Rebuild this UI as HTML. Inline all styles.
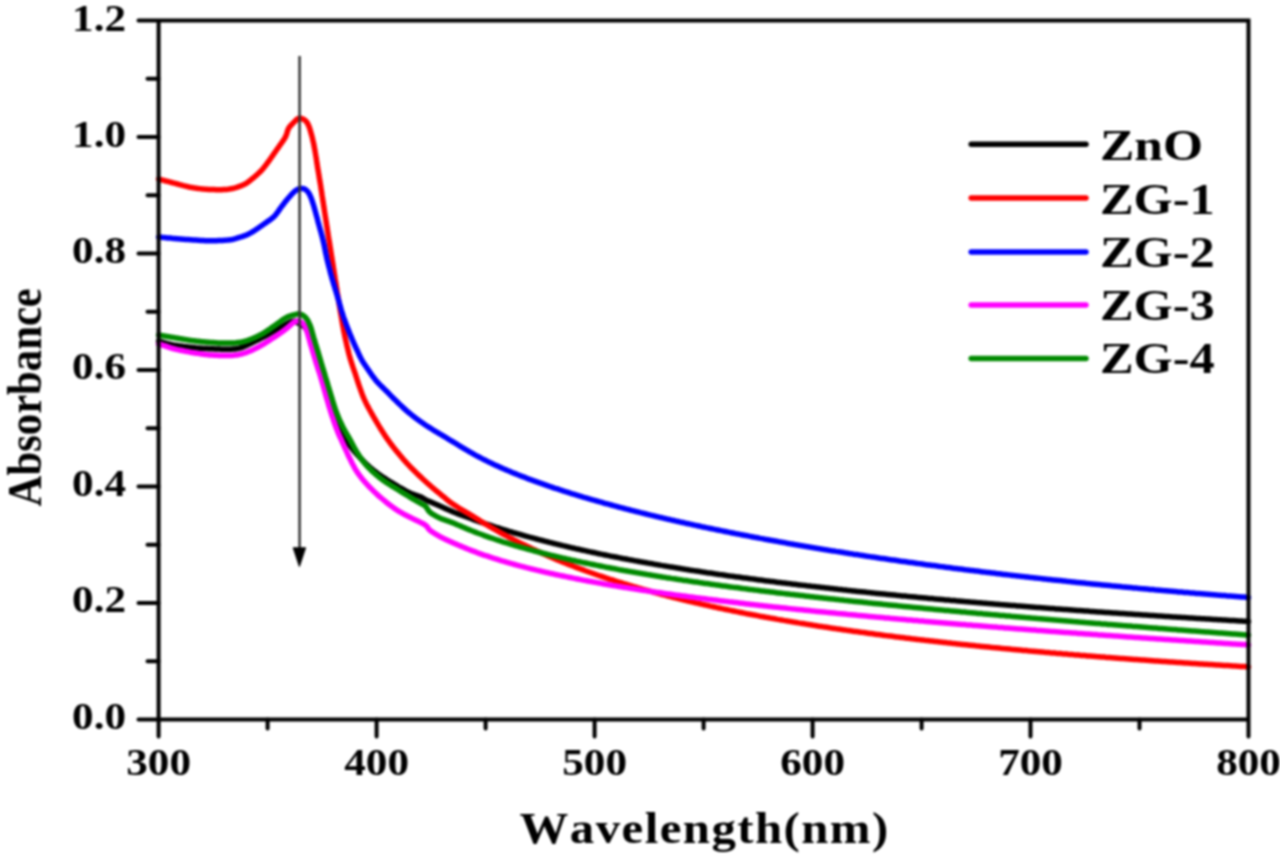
<!DOCTYPE html>
<html><head><meta charset="utf-8">
<style>
html,body{margin:0;padding:0;background:#fff;}
body{width:1280px;height:858px;overflow:hidden;}
svg{display:block;}
#wrap{width:1280px;height:858px;filter:blur(0.8px);}
text{font-family:"Liberation Serif",serif;font-weight:bold;fill:#000;font-kerning:none;}
</style></head><body><div id="wrap">
<svg width="1280" height="858" viewBox="0 0 1280 858">
<rect width="1280" height="858" fill="#fff"/>
<g fill="none" stroke-width="5.5" stroke-linejoin="round" stroke-linecap="round">
<path stroke="#000" d="M158.6 341.2L160.1 341.6 161.5 342.0 162.9 342.4 164.4 342.8 165.8 343.2 167.3 343.6 168.8 343.9 170.2 344.3 171.7 344.6 173.2 344.9 174.6 345.1 176.1 345.4 177.6 345.6 179.1 345.9 180.6 346.1 182.0 346.3 183.5 346.5 185.0 346.7 186.5 346.8 188.0 347.0 189.5 347.2 191.0 347.3 192.5 347.5 194.0 347.6 195.5 347.8 196.9 347.9 198.4 348.0 199.9 348.2 201.4 348.3 202.9 348.4 204.4 348.5 205.9 348.5 207.4 348.6 208.9 348.7 210.4 348.7 211.9 348.8 213.4 348.8 214.9 348.9 216.4 349.0 217.9 349.0 219.4 349.1 220.9 349.2 222.4 349.2 223.9 349.3 225.4 349.3 226.9 349.3 228.4 349.3 229.9 349.3 231.4 349.2 232.9 349.1 234.4 349.0 235.9 348.8 237.4 348.5 238.8 348.2 240.3 347.8 241.7 347.3 243.1 346.8 244.5 346.3 245.9 345.7 247.2 345.0 248.6 344.4 249.9 343.7 251.3 343.1 252.6 342.4 254.0 341.7 255.3 341.1 256.7 340.4 258.0 339.8 259.4 339.1 260.7 338.4 262.0 337.7 263.3 337.0 264.6 336.3 266.0 335.5 267.3 334.8 268.6 334.1 269.9 333.3 271.2 332.6 272.5 331.9 273.8 331.2 275.2 330.5 276.5 329.7 277.8 329.0 279.1 328.3 280.4 327.5 281.7 326.8 283.0 326.0 284.3 325.3 285.6 324.5 286.9 323.8 288.2 323.1 289.6 322.5 291.0 321.9 292.4 321.4 293.9 321.2 295.4 321.3 296.7 321.9 297.9 322.8 299.2 323.6 300.5 324.3 301.8 325.0 303.1 325.9 304.2 326.8 305.3 327.9 306.2 329.1 307.0 330.4 307.8 331.6 308.5 333.0 309.2 334.3 309.9 335.6 310.5 337.0 311.1 338.3 311.7 339.7 312.3 341.1 312.8 342.5 313.3 343.9 313.8 345.3 314.3 346.8 314.8 348.2 315.2 349.6 315.7 351.0 316.1 352.5 316.6 353.9 317.0 355.4 317.4 356.8 317.8 358.2 318.2 359.7 318.6 361.1 319.0 362.6 319.4 364.0 319.8 365.5 320.2 366.9 320.6 368.4 321.0 369.8 321.3 371.3 321.7 372.7 322.1 374.2 322.4 375.6 322.8 377.1 323.1 378.6 323.5 380.0 323.8 381.5 324.2 382.9 324.6 384.4 324.9 385.8 325.3 387.3 325.7 388.7 326.1 390.2 326.4 391.6 326.8 393.1 327.2 394.5 327.6 396.0 328.0 397.4 328.4 398.9 328.9 400.3 329.3 401.8 329.7 403.2 330.1 404.6 330.6 406.1 331.0 407.5 331.5 408.9 332.0 410.3 332.4 411.8 332.9 413.2 333.4 414.6 333.9 416.0 334.4 417.4 335.0 418.8 335.5 420.2 336.1 421.6 336.6 423.0 337.2 424.4 337.9 425.7 338.5 427.1 339.2 428.5 339.8 429.8 340.5 431.1 341.3 432.4 342.0 433.7 342.8 435.0 343.6 436.3 344.4 437.6 345.2 438.8 346.0 440.1 346.8 441.4 347.6 442.6 348.5 443.8 349.4 445.0 350.3 446.2 351.2 447.4 352.1 448.6 353.1 449.8 354.0 450.9 355.0 452.1 356.0 453.2 357.0 454.3 358.0 455.4 359.0 456.5 360.0 457.6 361.1 458.7 362.1 459.8 363.2 460.9 364.2 461.9 365.3 463.0 366.4 464.0 367.4 465.1 368.5 466.1 369.6 467.1 370.8 468.1 371.9 469.0 373.1 470.0 374.3 470.9 375.5 471.8 376.7 472.7 377.9 473.6 379.1 474.5 380.3 475.3 381.6 476.2 382.8 477.0 384.1 477.8 385.3 478.6 386.6 479.5 387.9 480.3 389.1 481.1 390.4 481.9 391.7 482.6 392.9 483.4 394.2 484.2 395.5 485.0 396.8 485.7 398.1 486.5 399.4 487.3 400.7 488.0 402.0 488.7 403.3 489.5 404.6 490.2 405.9 490.9 407.3 491.6 408.6 492.3 410.0 493.0 411.3 493.6 412.7 494.1 414.1 494.6 415.6 495.1 417.0 495.5 418.4 496.0 419.8 496.5 421.2 497.1 422.5 497.9 423.8 498.7 425.1 499.4 426.4 500.1 427.7 500.8 429.1 501.3 430.5 501.9 431.9 502.5 433.3 503.1 434.7 503.7 436.0 504.3 437.4 504.9 438.8 505.5 440.1 506.1 441.5 506.7 442.9 507.3 444.2 508.0 445.6 508.6 447.0 509.2 448.3 509.8 449.7 510.4 451.1 511.0 452.5 511.6 453.9 512.2 455.2 512.7 456.6 513.3 458.0 513.8 459.4 514.4 460.8 514.9 462.2 515.4 463.7 515.9 465.1 516.5 466.5 517.0 467.9 517.5 469.3 518.0 470.7 518.5 472.1 519.0 473.5 519.6 474.9 520.1 476.3 520.6 477.8 521.1 479.2 521.6 480.6 522.1 482.0 522.5 483.4 523.0 484.8 523.5 486.3 524.0 487.7 524.5 489.1 524.9 490.5 525.4 492.0 525.9 493.4 526.4 494.8 526.8 496.2 527.3 497.7 527.7 499.1 528.2 500.5 528.6 502.0 529.1 503.4 529.5 504.8 530.0 506.3 530.4 507.7 530.8 509.1 531.3 510.6 531.7 512.0 532.1 513.4 532.6 514.9 533.0 516.3 533.4 517.8 533.8 519.2 534.2 520.7 534.6 522.1 535.0 523.5 535.5 525.0 535.9 526.4 536.3 527.9 536.7 529.3 537.1 530.8 537.4 532.2 537.8 533.7 538.2 535.1 538.6 536.6 539.0 538.0 539.4 539.5 539.8 540.9 540.1 542.4 540.5 543.8 540.9 545.3 541.3 546.7 541.6 548.2 542.0 549.6 542.4 551.1 542.7 552.5 543.1 554.0 543.5 555.5 543.8 556.9 544.2 558.4 544.5 559.8 544.9 561.3 545.2 562.7 545.6 564.2 545.9 565.7 546.3 567.1 546.6 568.6 547.0 570.0 547.3 571.5 547.7 573.0 548.0 574.4 548.3 575.9 548.7 577.4 549.0 578.8 549.3 580.3 549.6 581.7 550.0 583.2 550.3 584.7 550.6 586.1 550.9 587.6 551.3 589.1 551.6 590.5 551.9 592.0 552.2 593.5 552.5 594.9 552.8 596.4 553.1 597.9 553.5 599.3 553.8 600.8 554.1 602.3 554.4 603.8 554.7 605.2 555.0 606.7 555.3 608.2 555.6 609.6 555.9 611.1 556.2 612.6 556.4 614.0 556.7 615.5 557.0 617.0 557.3 618.5 557.6 619.9 557.9 621.4 558.2 622.9 558.5 624.4 558.7 625.8 559.0 627.3 559.3 628.8 559.6 630.2 559.9 631.7 560.1 633.2 560.4 634.7 560.7 636.1 560.9 637.6 561.2 639.1 561.5 640.6 561.8 642.1 562.0 643.5 562.3 645.0 562.5 646.5 562.8 648.0 563.1 649.4 563.3 650.9 563.6 652.4 563.8 653.9 564.1 655.3 564.4 656.8 564.6 658.3 564.9 659.8 565.1 661.3 565.4 662.7 565.6 664.2 565.9 665.7 566.1 667.2 566.4 668.7 566.6 670.1 566.9 671.6 567.1 673.1 567.3 674.6 567.6 676.1 567.8 677.5 568.1 679.0 568.3 680.5 568.5 682.0 568.8 683.5 569.0 684.9 569.3 686.4 569.5 687.9 569.7 689.4 570.0 690.9 570.2 692.4 570.4 693.8 570.6 695.3 570.9 696.8 571.1 698.3 571.3 699.8 571.5 701.3 571.8 702.7 572.0 704.2 572.2 705.7 572.4 707.2 572.7 708.7 572.9 710.2 573.1 711.6 573.3 713.1 573.5 714.6 573.8 716.1 574.0 717.6 574.2 719.1 574.4 720.5 574.6 722.0 574.8 723.5 575.0 725.0 575.2 726.5 575.5 728.0 575.7 729.5 575.9 730.9 576.1 732.4 576.3 733.9 576.5 735.4 576.7 736.9 576.9 738.4 577.1 739.9 577.3 741.3 577.5 742.8 577.7 744.3 577.9 745.8 578.1 747.3 578.3 748.8 578.5 750.3 578.7 751.7 578.9 753.2 579.1 754.7 579.3 756.2 579.5 757.7 579.7 759.2 579.9 760.7 580.1 762.2 580.3 763.6 580.5 765.1 580.7 766.6 580.9 768.1 581.0 769.6 581.2 771.1 581.4 772.6 581.6 774.1 581.8 775.6 582.0 777.0 582.2 778.5 582.4 780.0 582.5 781.5 582.7 783.0 582.9 784.5 583.1 786.0 583.3 787.5 583.5 789.0 583.6 790.4 583.8 791.9 584.0 793.4 584.2 794.9 584.3 796.4 584.5 797.9 584.7 799.4 584.9 800.9 585.1 802.4 585.2 803.8 585.4 805.3 585.6 806.8 585.8 808.3 585.9 809.8 586.1 811.3 586.3 812.8 586.4 814.3 586.6 815.8 586.8 817.3 587.0 818.7 587.1 820.2 587.3 821.7 587.5 823.2 587.6 824.7 587.8 826.2 588.0 827.7 588.1 829.2 588.3 830.7 588.5 832.2 588.6 833.7 588.8 835.1 589.0 836.6 589.1 838.1 589.3 839.6 589.4 841.1 589.6 842.6 589.8 844.1 589.9 845.6 590.1 847.1 590.3 848.6 590.4 850.1 590.6 851.5 590.7 853.0 590.9 854.5 591.0 856.0 591.2 857.5 591.4 859.0 591.5 860.5 591.7 862.0 591.8 863.5 592.0 865.0 592.1 866.5 592.3 868.0 592.4 869.5 592.6 870.9 592.7 872.4 592.9 873.9 593.1 875.4 593.2 876.9 593.4 878.4 593.5 879.9 593.7 881.4 593.8 882.9 594.0 884.4 594.1 885.9 594.2 887.4 594.4 888.9 594.5 890.3 594.7 891.8 594.8 893.3 595.0 894.8 595.1 896.3 595.3 897.8 595.4 899.3 595.6 900.8 595.7 902.3 595.9 903.8 596.0 905.3 596.1 906.8 596.3 908.3 596.4 909.8 596.6 911.2 596.7 912.7 596.8 914.2 597.0 915.7 597.1 917.2 597.3 918.7 597.4 920.2 597.5 921.7 597.7 923.2 597.8 924.7 598.0 926.2 598.1 927.7 598.2 929.2 598.4 930.7 598.5 932.2 598.6 933.7 598.8 935.1 598.9 936.6 599.1 938.1 599.2 939.6 599.3 941.1 599.5 942.6 599.6 944.1 599.7 945.6 599.9 947.1 600.0 948.6 600.1 950.1 600.3 951.6 600.4 953.1 600.5 954.6 600.6 956.1 600.8 957.6 600.9 959.1 601.0 960.5 601.2 962.0 601.3 963.5 601.4 965.0 601.6 966.5 601.7 968.0 601.8 969.5 601.9 971.0 602.1 972.5 602.2 974.0 602.3 975.5 602.4 977.0 602.6 978.5 602.7 980.0 602.8 981.5 602.9 983.0 603.1 984.5 603.2 986.0 603.3 987.5 603.4 988.9 603.6 990.4 603.7 991.9 603.8 993.4 603.9 994.9 604.1 996.4 604.2 997.9 604.3 999.4 604.4 1000.9 604.6 1002.4 604.7 1003.9 604.8 1005.4 604.9 1006.9 605.0 1008.4 605.2 1009.9 605.3 1011.4 605.4 1012.9 605.5 1014.4 605.6 1015.9 605.7 1017.4 605.9 1018.8 606.0 1020.3 606.1 1021.8 606.2 1023.3 606.3 1024.8 606.5 1026.3 606.6 1027.8 606.7 1029.3 606.8 1030.8 606.9 1032.3 607.0 1033.8 607.2 1035.3 607.3 1036.8 607.4 1038.3 607.5 1039.8 607.6 1041.3 607.7 1042.8 607.8 1044.3 608.0 1045.8 608.1 1047.3 608.2 1048.8 608.3 1050.3 608.4 1051.8 608.5 1053.2 608.6 1054.7 608.7 1056.2 608.9 1057.7 609.0 1059.2 609.1 1060.7 609.2 1062.2 609.3 1063.7 609.4 1065.2 609.5 1066.7 609.6 1068.2 609.7 1069.7 609.8 1071.2 610.0 1072.7 610.1 1074.2 610.2 1075.7 610.3 1077.2 610.4 1078.7 610.5 1080.2 610.6 1081.7 610.7 1083.2 610.8 1084.7 610.9 1086.2 611.0 1087.7 611.1 1089.2 611.2 1090.6 611.4 1092.1 611.5 1093.6 611.6 1095.1 611.7 1096.6 611.8 1098.1 611.9 1099.6 612.0 1101.1 612.1 1102.6 612.2 1104.1 612.3 1105.6 612.4 1107.1 612.5 1108.6 612.6 1110.1 612.7 1111.6 612.8 1113.1 612.9 1114.6 613.0 1116.1 613.1 1117.6 613.2 1119.1 613.3 1120.6 613.4 1122.1 613.5 1123.6 613.6 1125.1 613.7 1126.6 613.8 1128.1 613.9 1129.6 614.0 1131.1 614.1 1132.5 614.2 1134.0 614.3 1135.5 614.4 1137.0 614.5 1138.5 614.6 1140.0 614.7 1141.5 614.8 1143.0 614.9 1144.5 615.0 1146.0 615.1 1147.5 615.2 1149.0 615.3 1150.5 615.4 1152.0 615.5 1153.5 615.6 1155.0 615.7 1156.5 615.8 1158.0 615.9 1159.5 616.0 1161.0 616.1 1162.5 616.2 1164.0 616.3 1165.5 616.4 1167.0 616.5 1168.5 616.6 1170.0 616.7 1171.5 616.8 1173.0 616.9 1174.5 617.0 1176.0 617.1 1177.5 617.2 1179.0 617.3 1180.4 617.3 1181.9 617.4 1183.4 617.5 1184.9 617.6 1186.4 617.7 1187.9 617.8 1189.4 617.9 1190.9 618.0 1192.4 618.1 1193.9 618.2 1195.4 618.3 1196.9 618.4 1198.4 618.5 1199.9 618.6 1201.4 618.7 1202.9 618.7 1204.4 618.8 1205.9 618.9 1207.4 619.0 1208.9 619.1 1210.4 619.2 1211.9 619.3 1213.4 619.4 1214.9 619.5 1216.4 619.6 1217.9 619.7 1219.4 619.7 1220.9 619.8 1222.4 619.9 1223.9 620.0 1225.4 620.1 1226.9 620.2 1228.4 620.3 1229.9 620.4 1231.4 620.5 1232.9 620.5 1234.3 620.6 1235.8 620.7 1237.3 620.8 1238.8 620.9 1240.3 621.0 1241.8 621.1 1243.3 621.2 1244.8 621.3 1246.3 621.3 1247.8 621.4 1248.5 621.5"/>
<path stroke="#f00" d="M158.6 179.0L160.0 179.4 161.5 179.8 162.9 180.2 164.4 180.6 165.8 181.0 167.3 181.3 168.7 181.7 170.2 182.1 171.6 182.5 173.1 182.9 174.5 183.2 176.0 183.6 177.4 184.0 178.9 184.4 180.3 184.8 181.8 185.2 183.2 185.6 184.7 185.9 186.2 186.3 187.6 186.6 189.1 187.0 190.5 187.3 192.0 187.5 193.5 187.8 195.0 188.0 196.5 188.2 198.0 188.4 199.4 188.6 200.9 188.8 202.4 188.9 203.9 189.1 205.4 189.2 206.9 189.3 208.4 189.4 209.9 189.5 211.4 189.5 212.9 189.6 214.4 189.6 215.9 189.7 217.4 189.7 218.9 189.7 220.4 189.7 221.9 189.7 223.4 189.6 224.9 189.5 226.4 189.4 227.9 189.3 229.4 189.1 230.9 188.8 232.3 188.5 233.8 188.2 235.2 187.8 236.7 187.4 238.1 186.9 239.5 186.4 240.9 185.9 242.3 185.3 243.7 184.7 245.0 184.0 246.3 183.3 247.6 182.4 248.8 181.5 249.9 180.6 251.1 179.7 252.3 178.7 253.4 177.8 254.6 176.8 255.7 175.8 256.9 174.8 258.0 173.8 259.1 172.8 260.1 171.8 261.2 170.7 262.2 169.6 263.2 168.4 264.1 167.3 265.0 166.1 266.0 164.9 266.9 163.7 267.7 162.5 268.6 161.3 269.5 160.1 270.4 158.9 271.2 157.6 272.1 156.4 272.9 155.2 273.8 153.9 274.7 152.7 275.5 151.5 276.4 150.2 277.2 149.0 278.1 147.8 279.0 146.6 279.8 145.3 280.7 144.1 281.6 142.9 282.4 141.7 283.3 140.4 284.1 139.2 284.9 137.9 285.6 136.6 286.2 135.2 286.7 133.8 287.1 132.4 287.5 130.9 288.1 129.5 288.7 128.2 289.5 126.9 290.5 125.8 291.5 124.7 292.6 123.6 293.6 122.5 294.7 121.5 295.8 120.4 296.9 119.4 298.1 118.6 299.5 118.1 301.0 118.3 302.4 118.8 303.8 119.5 305.0 120.3 306.1 121.3 307.0 122.5 307.8 123.8 308.4 125.1 309.0 126.5 309.5 127.9 310.0 129.4 310.4 130.8 310.8 132.2 311.2 133.7 311.6 135.1 312.0 136.6 312.4 138.0 312.7 139.5 313.0 141.0 313.4 142.4 313.7 143.9 314.0 145.4 314.2 146.8 314.5 148.3 314.8 149.8 315.1 151.3 315.3 152.7 315.6 154.2 315.8 155.7 316.1 157.2 316.3 158.7 316.5 160.2 316.7 161.6 316.9 163.1 317.2 164.6 317.4 166.1 317.6 167.6 317.9 169.0 318.1 170.5 318.4 172.0 318.6 173.5 318.9 175.0 319.1 176.4 319.3 177.9 319.6 179.4 319.8 180.9 320.1 182.4 320.3 183.8 320.6 185.3 320.8 186.8 321.0 188.3 321.2 189.8 321.5 191.3 321.7 192.7 321.9 194.2 322.1 195.7 322.4 197.2 322.6 198.7 322.8 200.2 323.0 201.6 323.3 203.1 323.5 204.6 323.7 206.1 324.0 207.6 324.2 209.1 324.4 210.5 324.6 212.0 324.9 213.5 325.1 215.0 325.3 216.5 325.6 217.9 325.8 219.4 326.0 220.9 326.2 222.4 326.5 223.9 326.7 225.4 326.9 226.8 327.2 228.3 327.4 229.8 327.6 231.3 327.9 232.8 328.1 234.2 328.3 235.7 328.6 237.2 328.8 238.7 329.1 240.2 329.3 241.7 329.5 243.1 329.8 244.6 330.0 246.1 330.2 247.6 330.5 249.1 330.7 250.5 330.9 252.0 331.2 253.5 331.4 255.0 331.6 256.5 331.9 258.0 332.1 259.4 332.3 260.9 332.6 262.4 332.8 263.9 333.0 265.4 333.3 266.8 333.5 268.3 333.7 269.8 334.0 271.3 334.2 272.8 334.4 274.3 334.7 275.7 334.9 277.2 335.1 278.7 335.4 280.2 335.6 281.7 335.8 283.1 336.1 284.6 336.3 286.1 336.5 287.6 336.8 289.1 337.0 290.6 337.2 292.0 337.5 293.5 337.7 295.0 337.9 296.5 338.2 298.0 338.4 299.4 338.6 300.9 338.9 302.4 339.1 303.9 339.4 305.4 339.6 306.8 339.9 308.3 340.1 309.8 340.4 311.3 340.6 312.8 340.9 314.2 341.1 315.7 341.4 317.2 341.6 318.7 341.9 320.2 342.1 321.6 342.4 323.1 342.6 324.6 342.9 326.1 343.2 327.5 343.4 329.0 343.7 330.5 344.0 332.0 344.3 333.4 344.6 334.9 344.9 336.4 345.2 337.8 345.5 339.3 345.8 340.8 346.2 342.2 346.5 343.7 346.8 345.2 347.2 346.6 347.5 348.1 347.9 349.5 348.2 351.0 348.6 352.5 348.9 353.9 349.3 355.4 349.7 356.8 350.1 358.3 350.5 359.7 351.0 361.1 351.4 362.6 351.9 364.0 352.4 365.4 352.8 366.8 353.3 368.2 353.8 369.7 354.3 371.1 354.8 372.5 355.3 373.9 355.7 375.4 356.2 376.8 356.7 378.2 357.1 379.6 357.6 381.1 358.0 382.5 358.5 383.9 359.0 385.3 359.5 386.8 360.0 388.2 360.5 389.6 361.0 391.0 361.5 392.4 362.0 393.8 362.5 395.2 363.1 396.6 363.7 398.0 364.3 399.4 364.9 400.7 365.6 402.1 366.2 403.4 366.9 404.8 367.6 406.1 368.3 407.4 369.0 408.7 369.7 410.0 370.5 411.4 371.2 412.7 371.9 414.0 372.7 415.3 373.4 416.6 374.2 417.9 374.9 419.2 375.7 420.5 376.4 421.8 377.2 423.1 378.0 424.4 378.7 425.6 379.5 426.9 380.3 428.2 381.1 429.5 381.9 430.8 382.7 432.0 383.5 433.3 384.3 434.5 385.1 435.8 386.0 437.0 386.8 438.3 387.7 439.5 388.5 440.7 389.4 441.9 390.3 443.2 391.2 444.3 392.1 445.5 393.0 446.7 394.0 447.9 394.9 449.1 395.8 450.3 396.8 451.4 397.7 452.6 398.7 453.7 399.6 454.9 400.6 456.0 401.6 457.2 402.6 458.3 403.5 459.5 404.5 460.6 405.5 461.7 406.5 462.8 407.5 463.9 408.6 465.0 409.6 466.1 410.6 467.2 411.7 468.3 412.7 469.3 413.8 470.4 414.9 471.4 415.9 472.5 417.0 473.5 418.1 474.6 419.2 475.6 420.3 476.6 421.4 477.6 422.5 478.7 423.6 479.7 424.7 480.7 425.8 481.7 426.9 482.7 428.0 483.7 429.1 484.7 430.3 485.7 431.4 486.7 432.5 487.7 433.7 488.7 434.8 489.6 436.0 490.6 437.1 491.5 438.3 492.5 439.5 493.4 440.6 494.3 441.8 495.3 443.0 496.3 444.1 497.2 445.3 498.2 446.4 499.2 447.6 500.1 448.7 501.1 449.9 502.0 451.1 502.9 452.3 503.7 453.6 504.6 454.8 505.4 456.1 506.2 457.4 507.0 458.6 507.8 459.9 508.6 461.2 509.3 462.5 510.1 463.8 510.8 465.1 511.6 466.4 512.4 467.7 513.1 469.0 513.9 470.3 514.7 471.5 515.5 472.8 516.2 474.1 517.0 475.4 517.8 476.6 518.6 477.9 519.4 479.2 520.2 480.4 521.0 481.7 521.8 483.0 522.6 484.3 523.3 485.6 524.1 486.9 524.9 488.2 525.6 489.4 526.4 490.7 527.2 492.0 527.9 493.3 528.7 494.6 529.4 496.0 530.1 497.3 530.9 498.6 531.6 499.9 532.3 501.2 533.1 502.5 533.8 503.8 534.5 505.1 535.2 506.5 535.9 507.8 536.6 509.1 537.3 510.4 538.0 511.8 538.7 513.1 539.4 514.4 540.1 515.8 540.8 517.1 541.5 518.5 542.1 519.8 542.8 521.1 543.5 522.5 544.1 523.8 544.8 525.2 545.4 526.5 546.1 527.9 546.7 529.2 547.4 530.6 548.0 532.0 548.7 533.3 549.3 534.7 549.9 536.0 550.5 537.4 551.2 538.8 551.8 540.1 552.4 541.5 553.0 542.9 553.6 544.3 554.2 545.6 554.8 547.0 555.4 548.4 556.0 549.8 556.6 551.1 557.2 552.5 557.8 553.9 558.4 555.3 559.0 556.7 559.6 558.0 560.1 559.4 560.7 560.8 561.3 562.2 561.8 563.6 562.4 565.0 563.0 566.4 563.5 567.8 564.1 569.2 564.6 570.6 565.2 572.0 565.7 573.4 566.2 574.8 566.8 576.2 567.3 577.6 567.9 579.0 568.4 580.4 568.9 581.8 569.4 583.2 569.9 584.6 570.5 586.0 571.0 587.4 571.5 588.8 572.0 590.3 572.5 591.7 573.0 593.1 573.5 594.5 574.0 595.9 574.5 597.3 575.0 598.7 575.5 600.2 576.0 601.6 576.4 603.0 576.9 604.4 577.4 605.9 577.9 607.3 578.3 608.7 578.8 610.1 579.3 611.6 579.7 613.0 580.2 614.4 580.7 615.8 581.1 617.3 581.6 618.7 582.0 620.1 582.5 621.6 582.9 623.0 583.4 624.4 583.8 625.9 584.2 627.3 584.7 628.7 585.1 630.2 585.5 631.6 586.0 633.0 586.4 634.5 586.8 635.9 587.2 637.4 587.7 638.8 588.1 640.2 588.5 641.7 588.9 643.1 589.3 644.6 589.7 646.0 590.1 647.5 590.5 648.9 590.9 650.4 591.3 651.8 591.7 653.2 592.1 654.7 592.5 656.1 592.9 657.6 593.3 659.0 593.7 660.5 594.1 661.9 594.5 663.4 594.8 664.8 595.2 666.3 595.6 667.7 596.0 669.2 596.4 670.7 596.7 672.1 597.1 673.6 597.5 675.0 597.8 676.5 598.2 677.9 598.6 679.4 598.9 680.8 599.3 682.3 599.6 683.8 600.0 685.2 600.3 686.7 600.7 688.1 601.0 689.6 601.4 691.0 601.7 692.5 602.1 694.0 602.4 695.4 602.8 696.9 603.1 698.4 603.4 699.8 603.8 701.3 604.1 702.7 604.4 704.2 604.8 705.7 605.1 707.1 605.4 708.6 605.7 710.1 606.1 711.5 606.4 713.0 606.7 714.5 607.0 715.9 607.3 717.4 607.7 718.9 608.0 720.3 608.3 721.8 608.6 723.3 608.9 724.7 609.2 726.2 609.5 727.7 609.8 729.1 610.1 730.6 610.4 732.1 610.7 733.5 611.0 735.0 611.3 736.5 611.6 738.0 611.9 739.4 612.2 740.9 612.5 742.4 612.8 743.8 613.1 745.3 613.4 746.8 613.7 748.3 613.9 749.7 614.2 751.2 614.5 752.7 614.8 754.1 615.1 755.6 615.3 757.1 615.6 758.6 615.9 760.0 616.2 761.5 616.4 763.0 616.7 764.5 617.0 765.9 617.3 767.4 617.5 768.9 617.8 770.4 618.1 771.8 618.3 773.3 618.6 774.8 618.8 776.3 619.1 777.8 619.4 779.2 619.6 780.7 619.9 782.2 620.1 783.7 620.4 785.1 620.6 786.6 620.9 788.1 621.1 789.6 621.4 791.1 621.6 792.5 621.9 794.0 622.1 795.5 622.4 797.0 622.6 798.5 622.9 799.9 623.1 801.4 623.4 802.9 623.6 804.4 623.8 805.9 624.1 807.3 624.3 808.8 624.6 810.3 624.8 811.8 625.0 813.3 625.3 814.8 625.5 816.2 625.7 817.7 626.0 819.2 626.2 820.7 626.4 822.2 626.6 823.6 626.9 825.1 627.1 826.6 627.3 828.1 627.5 829.6 627.8 831.1 628.0 832.5 628.2 834.0 628.4 835.5 628.6 837.0 628.9 838.5 629.1 840.0 629.3 841.5 629.5 842.9 629.7 844.4 629.9 845.9 630.1 847.4 630.4 848.9 630.6 850.4 630.8 851.8 631.0 853.3 631.2 854.8 631.4 856.3 631.6 857.8 631.8 859.3 632.0 860.8 632.2 862.2 632.4 863.7 632.6 865.2 632.8 866.7 633.0 868.2 633.2 869.7 633.4 871.2 633.6 872.7 633.8 874.1 634.0 875.6 634.2 877.1 634.4 878.6 634.6 880.1 634.8 881.6 635.0 883.1 635.2 884.6 635.4 886.0 635.6 887.5 635.8 889.0 635.9 890.5 636.1 892.0 636.3 893.5 636.5 895.0 636.7 896.5 636.9 897.9 637.1 899.4 637.2 900.9 637.4 902.4 637.6 903.9 637.8 905.4 638.0 906.9 638.2 908.4 638.3 909.9 638.5 911.4 638.7 912.8 638.9 914.3 639.0 915.8 639.2 917.3 639.4 918.8 639.6 920.3 639.7 921.8 639.9 923.3 640.1 924.8 640.3 926.2 640.4 927.7 640.6 929.2 640.8 930.7 641.0 932.2 641.1 933.7 641.3 935.2 641.5 936.7 641.6 938.2 641.8 939.7 642.0 941.2 642.1 942.6 642.3 944.1 642.5 945.6 642.6 947.1 642.8 948.6 642.9 950.1 643.1 951.6 643.3 953.1 643.4 954.6 643.6 956.1 643.7 957.6 643.9 959.0 644.1 960.5 644.2 962.0 644.4 963.5 644.5 965.0 644.7 966.5 644.8 968.0 645.0 969.5 645.2 971.0 645.3 972.5 645.5 974.0 645.6 975.5 645.8 977.0 645.9 978.4 646.1 979.9 646.2 981.4 646.4 982.9 646.5 984.4 646.7 985.9 646.8 987.4 647.0 988.9 647.1 990.4 647.3 991.9 647.4 993.4 647.6 994.9 647.7 996.4 647.8 997.9 648.0 999.3 648.1 1000.8 648.3 1002.3 648.4 1003.8 648.6 1005.3 648.7 1006.8 648.8 1008.3 649.0 1009.8 649.1 1011.3 649.3 1012.8 649.4 1014.3 649.5 1015.8 649.7 1017.3 649.8 1018.8 650.0 1020.3 650.1 1021.7 650.2 1023.2 650.4 1024.7 650.5 1026.2 650.6 1027.7 650.8 1029.2 650.9 1030.7 651.1 1032.2 651.2 1033.7 651.3 1035.2 651.5 1036.7 651.6 1038.2 651.7 1039.7 651.8 1041.2 652.0 1042.7 652.1 1044.2 652.2 1045.6 652.4 1047.1 652.5 1048.6 652.6 1050.1 652.8 1051.6 652.9 1053.1 653.0 1054.6 653.1 1056.1 653.3 1057.6 653.4 1059.1 653.5 1060.6 653.6 1062.1 653.8 1063.6 653.9 1065.1 654.0 1066.6 654.1 1068.1 654.3 1069.6 654.4 1071.1 654.5 1072.6 654.6 1074.0 654.8 1075.5 654.9 1077.0 655.0 1078.5 655.1 1080.0 655.3 1081.5 655.4 1083.0 655.5 1084.5 655.6 1086.0 655.7 1087.5 655.9 1089.0 656.0 1090.5 656.1 1092.0 656.2 1093.5 656.3 1095.0 656.4 1096.5 656.6 1098.0 656.7 1099.5 656.8 1101.0 656.9 1102.5 657.0 1104.0 657.1 1105.5 657.3 1106.9 657.4 1108.4 657.5 1109.9 657.6 1111.4 657.7 1112.9 657.8 1114.4 657.9 1115.9 658.0 1117.4 658.2 1118.9 658.3 1120.4 658.4 1121.9 658.5 1123.4 658.6 1124.9 658.7 1126.4 658.8 1127.9 658.9 1129.4 659.0 1130.9 659.2 1132.4 659.3 1133.9 659.4 1135.4 659.5 1136.9 659.6 1138.4 659.7 1139.9 659.8 1141.4 659.9 1142.8 660.0 1144.3 660.1 1145.8 660.2 1147.3 660.3 1148.8 660.4 1150.3 660.5 1151.8 660.7 1153.3 660.8 1154.8 660.9 1156.3 661.0 1157.8 661.1 1159.3 661.2 1160.8 661.3 1162.3 661.4 1163.8 661.5 1165.3 661.6 1166.8 661.7 1168.3 661.8 1169.8 661.9 1171.3 662.0 1172.8 662.1 1174.3 662.2 1175.8 662.3 1177.3 662.4 1178.8 662.5 1180.3 662.6 1181.8 662.7 1183.3 662.8 1184.7 662.9 1186.2 663.0 1187.7 663.1 1189.2 663.2 1190.7 663.3 1192.2 663.4 1193.7 663.5 1195.2 663.6 1196.7 663.7 1198.2 663.8 1199.7 663.9 1201.2 664.0 1202.7 664.1 1204.2 664.2 1205.7 664.2 1207.2 664.3 1208.7 664.4 1210.2 664.5 1211.7 664.6 1213.2 664.7 1214.7 664.8 1216.2 664.9 1217.7 665.0 1219.2 665.1 1220.7 665.2 1222.2 665.3 1223.7 665.4 1225.2 665.5 1226.7 665.6 1228.2 665.6 1229.7 665.7 1231.2 665.8 1232.7 665.9 1234.2 666.0 1235.6 666.1 1237.1 666.2 1238.6 666.3 1240.1 666.4 1241.6 666.5 1243.1 666.6 1244.6 666.6 1246.1 666.7 1247.6 666.8 1248.5 666.9"/>
<path stroke="#00f" d="M158.6 237.0L160.1 237.1 161.6 237.3 163.1 237.4 164.6 237.6 166.1 237.7 167.6 237.9 169.1 238.0 170.5 238.1 172.0 238.3 173.5 238.4 175.0 238.5 176.5 238.7 178.0 238.8 179.5 238.9 181.0 239.0 182.5 239.2 184.0 239.3 185.5 239.4 187.0 239.5 188.5 239.6 190.0 239.7 191.5 239.8 193.0 239.9 194.5 240.0 196.0 240.1 197.5 240.2 199.0 240.3 200.5 240.4 202.0 240.5 203.5 240.6 205.0 240.7 206.5 240.7 207.9 240.8 209.4 240.8 210.9 240.8 212.4 240.8 213.9 240.8 215.4 240.7 216.9 240.7 218.4 240.6 219.9 240.6 221.4 240.5 222.9 240.4 224.4 240.3 225.9 240.2 227.4 240.1 228.9 239.9 230.4 239.7 231.9 239.5 233.4 239.2 234.8 238.8 236.2 238.4 237.7 237.9 239.1 237.5 240.5 237.0 242.0 236.6 243.4 236.1 244.8 235.6 246.2 235.1 247.6 234.5 248.9 233.8 250.3 233.1 251.6 232.4 252.8 231.6 254.1 230.8 255.4 230.0 256.6 229.1 257.9 228.3 259.1 227.5 260.4 226.6 261.6 225.8 262.8 224.9 264.0 224.0 265.3 223.2 266.5 222.3 267.7 221.4 268.9 220.6 270.2 219.7 271.4 218.8 272.6 217.9 273.7 216.9 274.7 215.9 275.7 214.7 276.6 213.5 277.5 212.3 278.4 211.1 279.2 209.9 280.1 208.6 281.0 207.4 281.9 206.2 282.8 205.0 283.7 203.8 284.6 202.6 285.5 201.4 286.5 200.3 287.4 199.1 288.4 198.0 289.4 196.9 290.4 195.8 291.4 194.6 292.4 193.5 293.5 192.5 294.6 191.4 295.8 190.5 297.0 189.7 298.4 189.1 299.8 188.6 301.3 188.4 302.8 188.4 304.2 188.8 305.5 189.5 306.7 190.5 307.7 191.6 308.6 192.8 309.4 194.1 310.0 195.4 310.6 196.8 311.2 198.2 311.7 199.6 312.2 201.0 312.6 202.4 313.1 203.9 313.6 205.3 314.0 206.7 314.4 208.2 314.8 209.6 315.2 211.1 315.6 212.5 316.0 214.0 316.4 215.4 316.8 216.9 317.2 218.3 317.6 219.8 317.9 221.2 318.3 222.7 318.7 224.1 319.1 225.6 319.5 227.0 319.9 228.5 320.3 229.9 320.7 231.3 321.1 232.8 321.5 234.2 321.9 235.7 322.3 237.1 322.6 238.6 323.0 240.0 323.3 241.5 323.7 243.0 324.0 244.4 324.3 245.9 324.6 247.4 324.9 248.8 325.2 250.3 325.4 251.8 325.7 253.3 326.1 254.7 326.4 256.2 326.7 257.7 327.0 259.1 327.4 260.6 327.7 262.0 328.1 263.5 328.5 264.9 328.8 266.4 329.2 267.9 329.6 269.3 330.0 270.8 330.3 272.2 330.7 273.7 331.1 275.1 331.5 276.5 331.9 278.0 332.3 279.4 332.8 280.9 333.2 282.3 333.6 283.8 334.0 285.2 334.5 286.6 334.9 288.1 335.3 289.5 335.8 290.9 336.2 292.4 336.6 293.8 337.1 295.2 337.5 296.7 337.9 298.1 338.4 299.6 338.8 301.0 339.2 302.4 339.6 303.9 340.0 305.3 340.4 306.8 340.8 308.2 341.2 309.7 341.6 311.1 342.1 312.5 342.5 314.0 343.0 315.4 343.4 316.8 343.9 318.2 344.4 319.6 345.0 321.1 345.5 322.5 346.0 323.9 346.5 325.3 347.1 326.7 347.6 328.1 348.2 329.5 348.7 330.9 349.3 332.3 349.8 333.6 350.4 335.0 351.0 336.4 351.5 337.8 352.1 339.2 352.7 340.6 353.3 342.0 353.9 343.3 354.5 344.7 355.1 346.1 355.8 347.4 356.4 348.8 357.0 350.1 357.7 351.5 358.3 352.9 358.9 354.2 359.5 355.6 360.2 356.9 360.9 358.3 361.6 359.6 362.3 360.9 363.1 362.2 363.9 363.4 364.7 364.7 365.6 365.9 366.4 367.2 367.3 368.4 368.1 369.7 369.0 370.9 369.8 372.1 370.7 373.3 371.5 374.6 372.4 375.8 373.3 377.0 374.2 378.2 375.1 379.4 376.0 380.6 377.0 381.7 378.0 382.8 379.1 383.9 380.1 385.0 381.2 386.0 382.3 387.1 383.4 388.1 384.4 389.1 385.5 390.2 386.6 391.3 387.6 392.3 388.7 393.4 389.7 394.5 390.8 395.6 391.8 396.6 392.9 397.7 393.9 398.7 395.0 399.8 396.1 400.8 397.1 401.9 398.2 402.9 399.3 404.0 400.4 405.0 401.5 406.0 402.6 407.1 403.7 408.1 404.8 409.1 405.9 410.1 407.0 411.1 408.2 412.1 409.3 413.0 410.5 414.0 411.6 414.9 412.8 415.9 414.0 416.8 415.2 417.7 416.4 418.6 417.6 419.5 418.8 420.4 420.0 421.2 421.2 422.1 422.5 423.0 423.7 423.8 425.0 424.7 426.2 425.5 427.5 426.3 428.7 427.1 430.0 427.9 431.3 428.7 432.5 429.5 433.8 430.3 435.1 431.1 436.4 431.9 437.7 432.6 438.9 433.4 440.2 434.2 441.5 434.9 442.8 435.7 444.1 436.5 445.4 437.2 446.7 438.0 448.0 438.8 449.2 439.6 450.5 440.3 451.8 441.1 453.1 441.9 454.4 442.7 455.7 443.4 456.9 444.2 458.2 445.0 459.5 445.8 460.8 446.6 462.1 447.4 463.3 448.1 464.6 448.9 465.9 449.7 467.2 450.4 468.5 451.2 469.8 452.0 471.1 452.7 472.4 453.4 473.7 454.2 475.0 454.9 476.3 455.6 477.7 456.3 479.0 457.0 480.3 457.7 481.6 458.4 483.0 459.1 484.3 459.8 485.7 460.4 487.0 461.1 488.4 461.8 489.7 462.4 491.1 463.1 492.4 463.7 493.8 464.4 495.1 465.0 496.5 465.6 497.9 466.2 499.2 466.9 500.6 467.5 502.0 468.1 503.3 468.7 504.7 469.3 506.1 469.9 507.5 470.5 508.9 471.0 510.2 471.6 511.6 472.2 513.0 472.8 514.4 473.3 515.8 473.9 517.2 474.5 518.6 475.0 520.0 475.6 521.4 476.1 522.8 476.7 524.2 477.2 525.6 477.7 527.0 478.3 528.4 478.8 529.8 479.3 531.2 479.8 532.6 480.4 534.0 480.9 535.4 481.4 536.8 481.9 538.2 482.4 539.6 482.9 541.1 483.4 542.5 483.9 543.9 484.4 545.3 484.9 546.7 485.4 548.1 485.9 549.6 486.4 551.0 486.8 552.4 487.3 553.8 487.8 555.2 488.3 556.7 488.7 558.1 489.2 559.5 489.7 560.9 490.1 562.4 490.6 563.8 491.1 565.2 491.5 566.7 492.0 568.1 492.4 569.5 492.9 570.9 493.3 572.4 493.8 573.8 494.2 575.2 494.7 576.7 495.1 578.1 495.5 579.5 496.0 581.0 496.4 582.4 496.8 583.9 497.3 585.3 497.7 586.7 498.1 588.2 498.5 589.6 499.0 591.1 499.4 592.5 499.8 593.9 500.2 595.4 500.6 596.8 501.0 598.3 501.4 599.7 501.8 601.2 502.2 602.6 502.6 604.0 503.1 605.5 503.5 606.9 503.8 608.4 504.2 609.8 504.6 611.3 505.0 612.7 505.4 614.2 505.8 615.6 506.2 617.1 506.6 618.5 507.0 620.0 507.4 621.4 507.7 622.9 508.1 624.3 508.5 625.8 508.9 627.2 509.2 628.7 509.6 630.1 510.0 631.6 510.4 633.0 510.7 634.5 511.1 636.0 511.5 637.4 511.8 638.9 512.2 640.3 512.6 641.8 512.9 643.2 513.3 644.7 513.6 646.1 514.0 647.6 514.4 649.1 514.7 650.5 515.1 652.0 515.4 653.4 515.8 654.9 516.1 656.4 516.5 657.8 516.8 659.3 517.2 660.7 517.5 662.2 517.8 663.7 518.2 665.1 518.5 666.6 518.9 668.0 519.2 669.5 519.5 671.0 519.9 672.4 520.2 673.9 520.5 675.3 520.9 676.8 521.2 678.3 521.5 679.7 521.9 681.2 522.2 682.7 522.5 684.1 522.8 685.6 523.2 687.1 523.5 688.5 523.8 690.0 524.1 691.5 524.4 692.9 524.8 694.4 525.1 695.9 525.4 697.3 525.7 698.8 526.0 700.3 526.3 701.7 526.7 703.2 527.0 704.7 527.3 706.1 527.6 707.6 527.9 709.1 528.2 710.5 528.5 712.0 528.8 713.5 529.1 714.9 529.4 716.4 529.7 717.9 530.0 719.3 530.3 720.8 530.6 722.3 530.9 723.8 531.2 725.2 531.5 726.7 531.8 728.2 532.1 729.6 532.4 731.1 532.7 732.6 533.0 734.0 533.3 735.5 533.6 737.0 533.9 738.5 534.1 739.9 534.4 741.4 534.7 742.9 535.0 744.4 535.3 745.8 535.6 747.3 535.8 748.8 536.1 750.2 536.4 751.7 536.7 753.2 537.0 754.7 537.3 756.1 537.5 757.6 537.8 759.1 538.1 760.6 538.4 762.0 538.6 763.5 538.9 765.0 539.2 766.5 539.4 767.9 539.7 769.4 540.0 770.9 540.3 772.4 540.5 773.8 540.8 775.3 541.1 776.8 541.3 778.3 541.6 779.7 541.9 781.2 542.1 782.7 542.4 784.2 542.6 785.7 542.9 787.1 543.2 788.6 543.4 790.1 543.7 791.6 543.9 793.0 544.2 794.5 544.5 796.0 544.7 797.5 545.0 799.0 545.2 800.4 545.5 801.9 545.7 803.4 546.0 804.9 546.2 806.3 546.5 807.8 546.7 809.3 547.0 810.8 547.2 812.3 547.5 813.7 547.7 815.2 548.0 816.7 548.2 818.2 548.5 819.7 548.7 821.1 549.0 822.6 549.2 824.1 549.5 825.6 549.7 827.1 549.9 828.5 550.2 830.0 550.4 831.5 550.7 833.0 550.9 834.5 551.1 836.0 551.4 837.4 551.6 838.9 551.8 840.4 552.1 841.9 552.3 843.4 552.5 844.8 552.8 846.3 553.0 847.8 553.2 849.3 553.5 850.8 553.7 852.2 553.9 853.7 554.2 855.2 554.4 856.7 554.6 858.2 554.8 859.7 555.1 861.1 555.3 862.6 555.5 864.1 555.7 865.6 556.0 867.1 556.2 868.6 556.4 870.0 556.6 871.5 556.9 873.0 557.1 874.5 557.3 876.0 557.5 877.5 557.7 878.9 558.0 880.4 558.2 881.9 558.4 883.4 558.6 884.9 558.8 886.4 559.0 887.9 559.3 889.3 559.5 890.8 559.7 892.3 559.9 893.8 560.1 895.3 560.3 896.8 560.5 898.2 560.7 899.7 561.0 901.2 561.2 902.7 561.4 904.2 561.6 905.7 561.8 907.2 562.0 908.6 562.2 910.1 562.4 911.6 562.6 913.1 562.8 914.6 563.0 916.1 563.2 917.6 563.4 919.0 563.6 920.5 563.8 922.0 564.0 923.5 564.2 925.0 564.5 926.5 564.7 928.0 564.9 929.5 565.0 930.9 565.2 932.4 565.4 933.9 565.6 935.4 565.8 936.9 566.0 938.4 566.2 939.9 566.4 941.3 566.6 942.8 566.8 944.3 567.0 945.8 567.2 947.3 567.4 948.8 567.6 950.3 567.8 951.8 568.0 953.2 568.2 954.7 568.4 956.2 568.5 957.7 568.7 959.2 568.9 960.7 569.1 962.2 569.3 963.7 569.5 965.2 569.7 966.6 569.9 968.1 570.0 969.6 570.2 971.1 570.4 972.6 570.6 974.1 570.8 975.6 571.0 977.1 571.1 978.6 571.3 980.0 571.5 981.5 571.7 983.0 571.9 984.5 572.1 986.0 572.2 987.5 572.4 989.0 572.6 990.5 572.8 992.0 573.0 993.4 573.1 994.9 573.3 996.4 573.5 997.9 573.7 999.4 573.8 1000.9 574.0 1002.4 574.2 1003.9 574.4 1005.4 574.5 1006.9 574.7 1008.3 574.9 1009.8 575.1 1011.3 575.2 1012.8 575.4 1014.3 575.6 1015.8 575.7 1017.3 575.9 1018.8 576.1 1020.3 576.2 1021.8 576.4 1023.2 576.6 1024.7 576.7 1026.2 576.9 1027.7 577.1 1029.2 577.3 1030.7 577.4 1032.2 577.6 1033.7 577.7 1035.2 577.9 1036.7 578.1 1038.2 578.2 1039.6 578.4 1041.1 578.6 1042.6 578.7 1044.1 578.9 1045.6 579.1 1047.1 579.2 1048.6 579.4 1050.1 579.5 1051.6 579.7 1053.1 579.9 1054.6 580.0 1056.0 580.2 1057.5 580.3 1059.0 580.5 1060.5 580.6 1062.0 580.8 1063.5 581.0 1065.0 581.1 1066.5 581.3 1068.0 581.4 1069.5 581.6 1071.0 581.7 1072.5 581.9 1074.0 582.0 1075.4 582.2 1076.9 582.4 1078.4 582.5 1079.9 582.7 1081.4 582.8 1082.9 583.0 1084.4 583.1 1085.9 583.3 1087.4 583.4 1088.9 583.6 1090.4 583.7 1091.9 583.9 1093.4 584.0 1094.8 584.2 1096.3 584.3 1097.8 584.5 1099.3 584.6 1100.8 584.7 1102.3 584.9 1103.8 585.0 1105.3 585.2 1106.8 585.3 1108.3 585.5 1109.8 585.6 1111.3 585.8 1112.8 585.9 1114.3 586.0 1115.7 586.2 1117.2 586.3 1118.7 586.5 1120.2 586.6 1121.7 586.8 1123.2 586.9 1124.7 587.0 1126.2 587.2 1127.7 587.3 1129.2 587.5 1130.7 587.6 1132.2 587.7 1133.7 587.9 1135.2 588.0 1136.7 588.1 1138.1 588.3 1139.6 588.4 1141.1 588.6 1142.6 588.7 1144.1 588.8 1145.6 589.0 1147.1 589.1 1148.6 589.2 1150.1 589.4 1151.6 589.5 1153.1 589.6 1154.6 589.8 1156.1 589.9 1157.6 590.0 1159.1 590.2 1160.6 590.3 1162.1 590.4 1163.5 590.6 1165.0 590.7 1166.5 590.8 1168.0 591.0 1169.5 591.1 1171.0 591.2 1172.5 591.3 1174.0 591.5 1175.5 591.6 1177.0 591.7 1178.5 591.9 1180.0 592.0 1181.5 592.1 1183.0 592.2 1184.5 592.4 1186.0 592.5 1187.5 592.6 1189.0 592.7 1190.4 592.9 1191.9 593.0 1193.4 593.1 1194.9 593.2 1196.4 593.4 1197.9 593.5 1199.4 593.6 1200.9 593.7 1202.4 593.8 1203.9 594.0 1205.4 594.1 1206.9 594.2 1208.4 594.3 1209.9 594.5 1211.4 594.6 1212.9 594.7 1214.4 594.8 1215.9 594.9 1217.4 595.1 1218.9 595.2 1220.3 595.3 1221.8 595.4 1223.3 595.5 1224.8 595.6 1226.3 595.8 1227.8 595.9 1229.3 596.0 1230.8 596.1 1232.3 596.2 1233.8 596.3 1235.3 596.5 1236.8 596.6 1238.3 596.7 1239.8 596.8 1241.3 596.9 1242.8 597.0 1244.3 597.1 1245.8 597.3 1247.3 597.4 1248.5 597.5"/>
<path stroke="#f0f" d="M158.6 343.8L160.0 344.2 161.4 344.7 162.8 345.3 164.3 345.7 165.7 346.2 167.1 346.7 168.5 347.2 169.9 347.6 171.4 348.1 172.8 348.5 174.3 348.9 175.7 349.2 177.2 349.6 178.7 349.9 180.1 350.2 181.6 350.5 183.1 350.8 184.5 351.1 186.0 351.4 187.5 351.6 189.0 351.9 190.4 352.2 191.9 352.4 193.4 352.7 194.9 352.9 196.4 353.2 197.8 353.4 199.3 353.6 200.8 353.9 202.3 354.1 203.8 354.3 205.3 354.5 206.8 354.6 208.2 354.8 209.7 354.9 211.2 355.0 212.7 355.1 214.2 355.2 215.7 355.2 217.2 355.3 218.7 355.4 220.2 355.4 221.7 355.5 223.2 355.5 224.7 355.6 226.2 355.6 227.7 355.6 229.2 355.5 230.7 355.5 232.2 355.4 233.7 355.3 235.2 355.1 236.7 354.9 238.2 354.7 239.6 354.4 241.1 354.0 242.6 353.7 244.0 353.2 245.4 352.8 246.8 352.3 248.2 351.7 249.6 351.2 251.0 350.6 252.4 350.0 253.7 349.3 255.1 348.7 256.4 348.0 257.8 347.3 259.1 346.6 260.4 345.9 261.7 345.1 263.0 344.4 264.3 343.6 265.5 342.8 266.8 342.0 268.1 341.2 269.3 340.4 270.6 339.5 271.8 338.7 273.1 337.9 274.4 337.1 275.6 336.3 276.9 335.5 278.1 334.6 279.3 333.8 280.6 332.9 281.8 332.0 283.0 331.2 284.2 330.3 285.4 329.4 286.6 328.4 287.8 327.5 288.9 326.5 290.0 325.5 291.1 324.5 292.3 323.5 293.4 322.6 294.7 321.8 296.1 321.2 297.6 321.0 299.0 321.3 300.4 321.8 301.7 322.5 302.9 323.5 303.8 324.7 304.6 325.9 305.3 327.3 305.9 328.6 306.5 330.0 307.0 331.4 307.4 332.9 307.9 334.3 308.3 335.8 308.7 337.2 309.1 338.6 309.5 340.1 309.9 341.5 310.3 343.0 310.7 344.4 311.1 345.9 311.6 347.3 312.0 348.7 312.4 350.2 312.8 351.6 313.2 353.1 313.7 354.5 314.1 355.9 314.5 357.4 314.9 358.8 315.4 360.2 315.8 361.7 316.2 363.1 316.7 364.5 317.2 366.0 317.6 367.4 318.1 368.8 318.5 370.3 319.0 371.7 319.5 373.1 319.9 374.5 320.4 376.0 320.8 377.4 321.2 378.8 321.7 380.3 322.1 381.7 322.5 383.2 322.9 384.6 323.3 386.1 323.7 387.5 324.1 388.9 324.5 390.4 324.9 391.8 325.3 393.3 325.7 394.7 326.1 396.2 326.5 397.6 326.9 399.1 327.4 400.5 327.8 401.9 328.2 403.4 328.6 404.8 329.0 406.3 329.5 407.7 329.9 409.1 330.4 410.6 330.8 412.0 331.3 413.4 331.7 414.8 332.2 416.3 332.7 417.7 333.2 419.1 333.6 420.5 334.1 421.9 334.6 423.4 335.1 424.8 335.6 426.2 336.1 427.6 336.7 429.0 337.2 430.4 337.7 431.8 338.3 433.2 338.9 434.6 339.5 436.0 340.1 437.3 340.8 438.7 341.4 440.0 342.0 441.4 342.6 442.8 343.2 444.1 343.8 445.5 344.4 446.9 345.0 448.3 345.7 449.6 346.3 451.0 346.9 452.4 347.5 453.7 348.1 455.1 348.8 456.4 349.4 457.8 350.1 459.1 350.8 460.5 351.4 461.8 352.1 463.2 352.8 464.5 353.5 465.8 354.2 467.1 354.9 468.5 355.7 469.7 356.5 471.0 357.3 472.3 358.2 473.5 359.0 474.7 359.9 475.9 360.8 477.1 361.8 478.3 362.7 479.5 363.7 480.6 364.7 481.8 365.7 482.9 366.7 484.0 367.7 485.1 368.7 486.2 369.7 487.3 370.8 488.3 371.9 489.4 372.9 490.4 374.0 491.5 375.1 492.5 376.2 493.5 377.3 494.6 378.4 495.6 379.5 496.6 380.7 497.5 381.8 498.5 383.0 499.5 384.1 500.4 385.3 501.4 386.4 502.3 387.6 503.3 388.8 504.2 390.0 505.1 391.2 506.0 392.4 506.9 393.6 507.8 394.8 508.6 396.1 509.5 397.3 510.3 398.6 511.1 399.9 511.9 401.2 512.6 402.5 513.4 403.8 514.1 405.1 514.8 406.5 515.5 407.8 516.2 409.1 516.8 410.5 517.5 411.8 518.2 413.2 518.8 414.5 519.5 415.9 520.1 417.2 520.8 418.6 521.4 419.9 522.1 421.3 522.8 422.6 523.4 423.9 524.2 425.2 525.0 426.3 525.9 427.4 527.0 428.1 528.3 429.1 529.5 430.2 530.5 431.4 531.4 432.6 532.2 433.9 533.0 435.2 533.8 436.5 534.5 437.8 535.3 439.1 536.0 440.4 536.8 441.7 537.5 443.0 538.2 444.4 538.8 445.7 539.5 447.1 540.1 448.4 540.7 449.8 541.4 451.2 542.0 452.6 542.6 453.9 543.2 455.3 543.8 456.7 544.4 458.1 545.0 459.4 545.5 460.8 546.1 462.2 546.7 463.6 547.3 465.0 547.9 466.4 548.4 467.7 549.0 469.1 549.5 470.5 550.1 471.9 550.6 473.3 551.2 474.7 551.7 476.1 552.2 477.5 552.8 479.0 553.3 480.4 553.8 481.8 554.3 483.2 554.8 484.6 555.3 486.0 555.7 487.5 556.2 488.9 556.7 490.3 557.2 491.7 557.6 493.2 558.1 494.6 558.5 496.0 559.0 497.5 559.4 498.9 559.9 500.3 560.3 501.8 560.8 503.2 561.2 504.6 561.6 506.1 562.0 507.5 562.5 509.0 562.9 510.4 563.3 511.8 563.7 513.3 564.1 514.7 564.5 516.2 564.9 517.6 565.3 519.1 565.7 520.5 566.1 522.0 566.4 523.4 566.8 524.9 567.2 526.3 567.6 527.8 567.9 529.2 568.3 530.7 568.7 532.1 569.0 533.6 569.4 535.1 569.7 536.5 570.1 538.0 570.4 539.4 570.8 540.9 571.1 542.4 571.5 543.8 571.8 545.3 572.2 546.7 572.5 548.2 572.8 549.7 573.2 551.1 573.5 552.6 573.8 554.1 574.1 555.5 574.5 557.0 574.8 558.5 575.1 559.9 575.4 561.4 575.7 562.9 576.0 564.3 576.3 565.8 576.6 567.3 576.9 568.7 577.2 570.2 577.5 571.7 577.8 573.1 578.1 574.6 578.4 576.1 578.7 577.6 579.0 579.0 579.3 580.5 579.6 582.0 579.9 583.5 580.2 584.9 580.4 586.4 580.7 587.9 581.0 589.3 581.3 590.8 581.5 592.3 581.8 593.8 582.1 595.2 582.3 596.7 582.6 598.2 582.9 599.7 583.1 601.2 583.4 602.6 583.7 604.1 583.9 605.6 584.2 607.1 584.4 608.5 584.7 610.0 584.9 611.5 585.2 613.0 585.5 614.5 585.7 615.9 585.9 617.4 586.2 618.9 586.4 620.4 586.7 621.9 586.9 623.3 587.2 624.8 587.4 626.3 587.6 627.8 587.9 629.3 588.1 630.7 588.4 632.2 588.6 633.7 588.8 635.2 589.1 636.7 589.3 638.2 589.5 639.6 589.7 641.1 590.0 642.6 590.2 644.1 590.4 645.6 590.6 647.1 590.9 648.5 591.1 650.0 591.3 651.5 591.5 653.0 591.7 654.5 592.0 656.0 592.2 657.4 592.4 658.9 592.6 660.4 592.8 661.9 593.0 663.4 593.3 664.9 593.5 666.3 593.7 667.8 593.9 669.3 594.1 670.8 594.3 672.3 594.5 673.8 594.7 675.3 594.9 676.7 595.1 678.2 595.3 679.7 595.5 681.2 595.7 682.7 595.9 684.2 596.1 685.7 596.3 687.2 596.5 688.6 596.7 690.1 596.9 691.6 597.1 693.1 597.3 694.6 597.5 696.1 597.7 697.6 597.9 699.1 598.1 700.5 598.3 702.0 598.5 703.5 598.6 705.0 598.8 706.5 599.0 708.0 599.2 709.5 599.4 711.0 599.6 712.4 599.8 713.9 600.0 715.4 600.1 716.9 600.3 718.4 600.5 719.9 600.7 721.4 600.9 722.9 601.0 724.4 601.2 725.8 601.4 727.3 601.6 728.8 601.8 730.3 601.9 731.8 602.1 733.3 602.3 734.8 602.5 736.3 602.6 737.8 602.8 739.3 603.0 740.7 603.2 742.2 603.3 743.7 603.5 745.2 603.7 746.7 603.9 748.2 604.0 749.7 604.2 751.2 604.4 752.7 604.5 754.2 604.7 755.6 604.9 757.1 605.0 758.6 605.2 760.1 605.4 761.6 605.5 763.1 605.7 764.6 605.9 766.1 606.0 767.6 606.2 769.1 606.4 770.6 606.5 772.0 606.7 773.5 606.9 775.0 607.0 776.5 607.2 778.0 607.3 779.5 607.5 781.0 607.7 782.5 607.8 784.0 608.0 785.5 608.1 787.0 608.3 788.5 608.4 789.9 608.6 791.4 608.8 792.9 608.9 794.4 609.1 795.9 609.2 797.4 609.4 798.9 609.5 800.4 609.7 801.9 609.8 803.4 610.0 804.9 610.2 806.4 610.3 807.8 610.5 809.3 610.6 810.8 610.8 812.3 610.9 813.8 611.1 815.3 611.2 816.8 611.4 818.3 611.5 819.8 611.7 821.3 611.8 822.8 612.0 824.3 612.1 825.8 612.2 827.2 612.4 828.7 612.5 830.2 612.7 831.7 612.8 833.2 613.0 834.7 613.1 836.2 613.3 837.7 613.4 839.2 613.6 840.7 613.7 842.2 613.8 843.7 614.0 845.2 614.1 846.7 614.3 848.2 614.4 849.6 614.6 851.1 614.7 852.6 614.8 854.1 615.0 855.6 615.1 857.1 615.3 858.6 615.4 860.1 615.5 861.6 615.7 863.1 615.8 864.6 616.0 866.1 616.1 867.6 616.2 869.1 616.4 870.6 616.5 872.0 616.7 873.5 616.8 875.0 616.9 876.5 617.1 878.0 617.2 879.5 617.3 881.0 617.5 882.5 617.6 884.0 617.7 885.5 617.9 887.0 618.0 888.5 618.1 890.0 618.3 891.5 618.4 893.0 618.5 894.5 618.7 896.0 618.8 897.4 618.9 898.9 619.1 900.4 619.2 901.9 619.3 903.4 619.5 904.9 619.6 906.4 619.7 907.9 619.9 909.4 620.0 910.9 620.1 912.4 620.2 913.9 620.4 915.4 620.5 916.9 620.6 918.4 620.8 919.9 620.9 921.4 621.0 922.8 621.1 924.3 621.3 925.8 621.4 927.3 621.5 928.8 621.7 930.3 621.8 931.8 621.9 933.3 622.0 934.8 622.2 936.3 622.3 937.8 622.4 939.3 622.5 940.8 622.7 942.3 622.8 943.8 622.9 945.3 623.0 946.8 623.2 948.3 623.3 949.8 623.4 951.2 623.5 952.7 623.7 954.2 623.8 955.7 623.9 957.2 624.0 958.7 624.2 960.2 624.3 961.7 624.4 963.2 624.5 964.7 624.6 966.2 624.8 967.7 624.9 969.2 625.0 970.7 625.1 972.2 625.2 973.7 625.4 975.2 625.5 976.7 625.6 978.2 625.7 979.7 625.8 981.2 626.0 982.6 626.1 984.1 626.2 985.6 626.3 987.1 626.4 988.6 626.6 990.1 626.7 991.6 626.8 993.1 626.9 994.6 627.0 996.1 627.1 997.6 627.3 999.1 627.4 1000.6 627.5 1002.1 627.6 1003.6 627.7 1005.1 627.9 1006.6 628.0 1008.1 628.1 1009.6 628.2 1011.1 628.3 1012.6 628.4 1014.0 628.5 1015.5 628.7 1017.0 628.8 1018.5 628.9 1020.0 629.0 1021.5 629.1 1023.0 629.2 1024.5 629.3 1026.0 629.5 1027.5 629.6 1029.0 629.7 1030.5 629.8 1032.0 629.9 1033.5 630.0 1035.0 630.1 1036.5 630.3 1038.0 630.4 1039.5 630.5 1041.0 630.6 1042.5 630.7 1044.0 630.8 1045.5 630.9 1047.0 631.0 1048.5 631.2 1049.9 631.3 1051.4 631.4 1052.9 631.5 1054.4 631.6 1055.9 631.7 1057.4 631.8 1058.9 631.9 1060.4 632.0 1061.9 632.2 1063.4 632.3 1064.9 632.4 1066.4 632.5 1067.9 632.6 1069.4 632.7 1070.9 632.8 1072.4 632.9 1073.9 633.0 1075.4 633.1 1076.9 633.2 1078.4 633.4 1079.9 633.5 1081.4 633.6 1082.9 633.7 1084.4 633.8 1085.9 633.9 1087.3 634.0 1088.8 634.1 1090.3 634.2 1091.8 634.3 1093.3 634.4 1094.8 634.5 1096.3 634.6 1097.8 634.8 1099.3 634.9 1100.8 635.0 1102.3 635.1 1103.8 635.2 1105.3 635.3 1106.8 635.4 1108.3 635.5 1109.8 635.6 1111.3 635.7 1112.8 635.8 1114.3 635.9 1115.8 636.0 1117.3 636.1 1118.8 636.2 1120.3 636.3 1121.8 636.4 1123.3 636.5 1124.8 636.7 1126.2 636.8 1127.7 636.9 1129.2 637.0 1130.7 637.1 1132.2 637.2 1133.7 637.3 1135.2 637.4 1136.7 637.5 1138.2 637.6 1139.7 637.7 1141.2 637.8 1142.7 637.9 1144.2 638.0 1145.7 638.1 1147.2 638.2 1148.7 638.3 1150.2 638.4 1151.7 638.5 1153.2 638.6 1154.7 638.7 1156.2 638.8 1157.7 638.9 1159.2 639.0 1160.7 639.1 1162.2 639.2 1163.7 639.3 1165.2 639.4 1166.7 639.5 1168.2 639.6 1169.6 639.7 1171.1 639.8 1172.6 639.9 1174.1 640.0 1175.6 640.1 1177.1 640.2 1178.6 640.3 1180.1 640.4 1181.6 640.5 1183.1 640.6 1184.6 640.7 1186.1 640.8 1187.6 640.9 1189.1 641.0 1190.6 641.1 1192.1 641.2 1193.6 641.3 1195.1 641.4 1196.6 641.5 1198.1 641.6 1199.6 641.7 1201.1 641.8 1202.6 641.9 1204.1 642.0 1205.6 642.1 1207.1 642.2 1208.6 642.3 1210.1 642.4 1211.6 642.5 1213.1 642.6 1214.5 642.7 1216.0 642.8 1217.5 642.9 1219.0 643.0 1220.5 643.1 1222.0 643.2 1223.5 643.3 1225.0 643.4 1226.5 643.5 1228.0 643.6 1229.5 643.7 1231.0 643.8 1232.5 643.9 1234.0 644.0 1235.5 644.1 1237.0 644.2 1238.5 644.3 1240.0 644.3 1241.5 644.4 1243.0 644.5 1244.5 644.6 1246.0 644.7 1247.5 644.8 1248.5 644.9"/>
<path stroke="#008a00" d="M158.6 335.0L160.1 335.2 161.6 335.5 163.0 335.7 164.5 336.0 166.0 336.2 167.5 336.5 169.0 336.7 170.4 337.0 171.9 337.2 173.4 337.4 174.9 337.7 176.4 337.9 177.8 338.2 179.3 338.5 180.8 338.7 182.3 339.0 183.7 339.2 185.2 339.5 186.7 339.7 188.2 340.0 189.7 340.2 191.2 340.4 192.6 340.6 194.1 340.8 195.6 341.0 197.1 341.2 198.6 341.3 200.1 341.5 201.6 341.7 203.1 341.8 204.6 342.0 206.1 342.1 207.6 342.2 209.0 342.3 210.5 342.4 212.0 342.5 213.5 342.6 215.0 342.7 216.5 342.8 218.0 342.9 219.5 343.0 221.0 343.0 222.5 343.1 224.0 343.1 225.5 343.1 227.0 343.1 228.5 343.1 230.0 343.1 231.5 343.0 233.0 343.0 234.5 342.9 236.0 342.8 237.5 342.6 239.0 342.5 240.5 342.2 242.0 342.0 243.4 341.6 244.9 341.3 246.3 340.8 247.7 340.4 249.2 339.9 250.6 339.3 251.9 338.8 253.3 338.2 254.7 337.6 256.1 337.0 257.4 336.3 258.8 335.7 260.1 335.0 261.4 334.3 262.7 333.6 264.0 332.8 265.3 332.0 266.6 331.2 267.8 330.4 269.1 329.5 270.3 328.7 271.5 327.8 272.7 326.9 274.0 326.1 275.2 325.2 276.4 324.4 277.6 323.5 278.8 322.6 280.1 321.7 281.3 320.8 282.5 319.9 283.7 319.1 285.0 318.3 286.3 317.5 287.6 316.9 289.0 316.3 290.4 315.8 291.9 315.4 293.3 315.0 294.8 314.7 296.2 314.3 297.7 314.1 299.2 314.1 300.7 314.4 302.1 314.9 303.4 315.7 304.6 316.6 305.7 317.6 306.6 318.8 307.4 320.0 308.2 321.3 308.8 322.7 309.5 324.0 310.0 325.4 310.6 326.8 311.1 328.2 311.5 329.7 311.9 331.1 312.3 332.6 312.7 334.0 313.1 335.5 313.5 336.9 313.9 338.3 314.4 339.8 314.8 341.2 315.2 342.7 315.6 344.1 316.1 345.5 316.5 347.0 316.9 348.4 317.4 349.8 317.8 351.3 318.2 352.7 318.7 354.2 319.1 355.6 319.5 357.0 319.9 358.5 320.4 359.9 320.8 361.3 321.2 362.8 321.7 364.2 322.1 365.7 322.5 367.1 323.0 368.5 323.4 370.0 323.8 371.4 324.3 372.8 324.7 374.3 325.1 375.7 325.5 377.1 326.0 378.6 326.4 380.0 326.8 381.5 327.3 382.9 327.7 384.3 328.1 385.8 328.6 387.2 329.0 388.6 329.4 390.1 329.9 391.5 330.3 392.9 330.7 394.4 331.2 395.8 331.6 397.3 332.0 398.7 332.5 400.1 332.9 401.6 333.3 403.0 333.8 404.4 334.2 405.9 334.7 407.3 335.1 408.7 335.6 410.1 336.1 411.6 336.7 413.0 337.2 414.4 337.8 415.7 338.3 417.1 338.9 418.5 339.5 419.9 340.1 421.3 340.8 422.6 341.4 424.0 342.1 425.3 342.7 426.7 343.4 428.0 344.1 429.3 344.8 430.6 345.6 432.0 346.3 433.3 347.1 434.6 347.8 435.8 348.6 437.1 349.3 438.4 350.1 439.7 350.8 441.1 351.5 442.4 352.2 443.7 352.9 445.0 353.6 446.3 354.3 447.7 355.0 449.0 355.8 450.3 356.5 451.6 357.3 452.9 358.1 454.1 358.9 455.4 359.8 456.6 360.6 457.9 361.5 459.1 362.4 460.3 363.3 461.5 364.2 462.7 365.1 463.9 366.1 465.0 367.1 466.1 368.2 467.2 369.2 468.3 370.3 469.3 371.3 470.4 372.4 471.4 373.5 472.4 374.7 473.4 375.8 474.4 376.9 475.4 378.1 476.3 379.3 477.3 380.4 478.2 381.6 479.1 382.8 480.0 384.1 480.9 385.3 481.7 386.5 482.6 387.8 483.4 389.1 484.2 390.3 485.0 391.6 485.8 392.9 486.6 394.2 487.3 395.4 488.1 396.7 488.9 398.0 489.7 399.2 490.5 400.5 491.3 401.8 492.1 403.1 492.9 404.3 493.7 405.6 494.5 406.9 495.2 408.2 496.0 409.5 496.8 410.8 497.6 412.0 498.3 413.3 499.1 414.6 499.9 415.9 500.6 417.2 501.4 418.5 502.1 419.8 502.8 421.2 503.6 422.5 504.3 423.8 505.0 425.0 505.8 426.1 506.9 426.9 508.1 427.7 509.4 428.5 510.7 429.5 511.8 430.6 512.8 431.8 513.7 433.1 514.5 434.4 515.2 435.7 516.0 437.0 516.7 438.4 517.3 439.7 518.0 441.1 518.6 442.5 519.1 443.9 519.6 445.3 520.1 446.7 520.6 448.2 521.1 449.6 521.6 451.0 522.1 452.4 522.7 453.8 523.2 455.2 523.8 456.5 524.4 457.9 525.0 459.3 525.5 460.7 526.1 462.1 526.7 463.4 527.3 464.8 527.9 466.2 528.5 467.6 529.1 469.0 529.6 470.4 530.2 471.8 530.8 473.1 531.3 474.5 531.9 475.9 532.4 477.3 533.0 478.7 533.5 480.2 534.0 481.6 534.5 483.0 535.0 484.4 535.6 485.8 536.1 487.2 536.6 488.6 537.1 490.0 537.6 491.5 538.0 492.9 538.5 494.3 539.0 495.7 539.5 497.1 540.0 498.6 540.4 500.0 540.9 501.4 541.4 502.8 541.8 504.3 542.3 505.7 542.7 507.1 543.2 508.6 543.6 510.0 544.0 511.4 544.5 512.9 544.9 514.3 545.3 515.8 545.8 517.2 546.2 518.6 546.6 520.1 547.0 521.5 547.4 523.0 547.8 524.4 548.2 525.9 548.6 527.3 549.0 528.7 549.4 530.2 549.8 531.6 550.2 533.1 550.6 534.5 551.0 536.0 551.4 537.4 551.8 538.9 552.1 540.3 552.5 541.8 552.9 543.3 553.3 544.7 553.6 546.2 554.0 547.6 554.4 549.1 554.7 550.5 555.1 552.0 555.4 553.4 555.8 554.9 556.1 556.4 556.5 557.8 556.8 559.3 557.2 560.7 557.5 562.2 557.9 563.7 558.2 565.1 558.5 566.6 558.9 568.0 559.2 569.5 559.5 571.0 559.9 572.4 560.2 573.9 560.5 575.4 560.8 576.8 561.2 578.3 561.5 579.8 561.8 581.2 562.1 582.7 562.4 584.2 562.7 585.6 563.0 587.1 563.3 588.6 563.6 590.0 563.9 591.5 564.2 593.0 564.5 594.5 564.8 595.9 565.1 597.4 565.4 598.9 565.7 600.3 566.0 601.8 566.3 603.3 566.6 604.8 566.9 606.2 567.2 607.7 567.4 609.2 567.7 610.6 568.0 612.1 568.3 613.6 568.6 615.1 568.8 616.5 569.1 618.0 569.4 619.5 569.7 621.0 569.9 622.4 570.2 623.9 570.5 625.4 570.7 626.9 571.0 628.3 571.3 629.8 571.5 631.3 571.8 632.8 572.0 634.3 572.3 635.7 572.6 637.2 572.8 638.7 573.1 640.2 573.3 641.6 573.6 643.1 573.8 644.6 574.1 646.1 574.3 647.6 574.6 649.0 574.8 650.5 575.0 652.0 575.3 653.5 575.5 655.0 575.8 656.4 576.0 657.9 576.3 659.4 576.5 660.9 576.7 662.4 577.0 663.9 577.2 665.3 577.4 666.8 577.7 668.3 577.9 669.8 578.1 671.3 578.4 672.7 578.6 674.2 578.8 675.7 579.0 677.2 579.3 678.7 579.5 680.2 579.7 681.6 579.9 683.1 580.2 684.6 580.4 686.1 580.6 687.6 580.8 689.1 581.1 690.5 581.3 692.0 581.5 693.5 581.7 695.0 581.9 696.5 582.1 698.0 582.3 699.5 582.6 700.9 582.8 702.4 583.0 703.9 583.2 705.4 583.4 706.9 583.6 708.4 583.8 709.8 584.0 711.3 584.2 712.8 584.4 714.3 584.6 715.8 584.9 717.3 585.1 718.8 585.3 720.3 585.5 721.7 585.7 723.2 585.9 724.7 586.1 726.2 586.3 727.7 586.5 729.2 586.7 730.7 586.9 732.1 587.1 733.6 587.3 735.1 587.4 736.6 587.6 738.1 587.8 739.6 588.0 741.1 588.2 742.6 588.4 744.0 588.6 745.5 588.8 747.0 589.0 748.5 589.2 750.0 589.4 751.5 589.6 753.0 589.7 754.5 589.9 755.9 590.1 757.4 590.3 758.9 590.5 760.4 590.7 761.9 590.9 763.4 591.0 764.9 591.2 766.4 591.4 767.9 591.6 769.3 591.8 770.8 592.0 772.3 592.1 773.8 592.3 775.3 592.5 776.8 592.7 778.3 592.9 779.8 593.0 781.3 593.2 782.7 593.4 784.2 593.6 785.7 593.7 787.2 593.9 788.7 594.1 790.2 594.3 791.7 594.4 793.2 594.6 794.7 594.8 796.2 595.0 797.6 595.1 799.1 595.3 800.6 595.5 802.1 595.6 803.6 595.8 805.1 596.0 806.6 596.2 808.1 596.3 809.6 596.5 811.1 596.7 812.6 596.8 814.0 597.0 815.5 597.2 817.0 597.3 818.5 597.5 820.0 597.7 821.5 597.8 823.0 598.0 824.5 598.2 826.0 598.3 827.5 598.5 829.0 598.7 830.4 598.8 831.9 599.0 833.4 599.1 834.9 599.3 836.4 599.5 837.9 599.6 839.4 599.8 840.9 599.9 842.4 600.1 843.9 600.3 845.4 600.4 846.8 600.6 848.3 600.7 849.8 600.9 851.3 601.1 852.8 601.2 854.3 601.4 855.8 601.5 857.3 601.7 858.8 601.8 860.3 602.0 861.8 602.1 863.3 602.3 864.7 602.5 866.2 602.6 867.7 602.8 869.2 602.9 870.7 603.1 872.2 603.2 873.7 603.4 875.2 603.5 876.7 603.7 878.2 603.8 879.7 604.0 881.2 604.1 882.7 604.3 884.1 604.4 885.6 604.6 887.1 604.7 888.6 604.9 890.1 605.0 891.6 605.2 893.1 605.3 894.6 605.5 896.1 605.6 897.6 605.8 899.1 605.9 900.6 606.1 902.1 606.2 903.6 606.4 905.0 606.5 906.5 606.7 908.0 606.8 909.5 606.9 911.0 607.1 912.5 607.2 914.0 607.4 915.5 607.5 917.0 607.7 918.5 607.8 920.0 608.0 921.5 608.1 923.0 608.2 924.5 608.4 925.9 608.5 927.4 608.7 928.9 608.8 930.4 609.0 931.9 609.1 933.4 609.2 934.9 609.4 936.4 609.5 937.9 609.7 939.4 609.8 940.9 609.9 942.4 610.1 943.9 610.2 945.4 610.4 946.9 610.5 948.3 610.6 949.8 610.8 951.3 610.9 952.8 611.0 954.3 611.2 955.8 611.3 957.3 611.5 958.8 611.6 960.3 611.7 961.8 611.9 963.3 612.0 964.8 612.1 966.3 612.3 967.8 612.4 969.3 612.6 970.8 612.7 972.2 612.8 973.7 613.0 975.2 613.1 976.7 613.2 978.2 613.4 979.7 613.5 981.2 613.6 982.7 613.8 984.2 613.9 985.7 614.0 987.2 614.2 988.7 614.3 990.2 614.4 991.7 614.6 993.2 614.7 994.7 614.8 996.2 615.0 997.6 615.1 999.1 615.2 1000.6 615.4 1002.1 615.5 1003.6 615.6 1005.1 615.7 1006.6 615.9 1008.1 616.0 1009.6 616.1 1011.1 616.3 1012.6 616.4 1014.1 616.5 1015.6 616.7 1017.1 616.8 1018.6 616.9 1020.1 617.0 1021.6 617.2 1023.1 617.3 1024.5 617.4 1026.0 617.6 1027.5 617.7 1029.0 617.8 1030.5 617.9 1032.0 618.1 1033.5 618.2 1035.0 618.3 1036.5 618.4 1038.0 618.6 1039.5 618.7 1041.0 618.8 1042.5 619.0 1044.0 619.1 1045.5 619.2 1047.0 619.3 1048.5 619.5 1050.0 619.6 1051.5 619.7 1052.9 619.8 1054.4 620.0 1055.9 620.1 1057.4 620.2 1058.9 620.3 1060.4 620.5 1061.9 620.6 1063.4 620.7 1064.9 620.8 1066.4 621.0 1067.9 621.1 1069.4 621.2 1070.9 621.3 1072.4 621.4 1073.9 621.6 1075.4 621.7 1076.9 621.8 1078.4 621.9 1079.9 622.1 1081.3 622.2 1082.8 622.3 1084.3 622.4 1085.8 622.6 1087.3 622.7 1088.8 622.8 1090.3 622.9 1091.8 623.0 1093.3 623.2 1094.8 623.3 1096.3 623.4 1097.8 623.5 1099.3 623.6 1100.8 623.8 1102.3 623.9 1103.8 624.0 1105.3 624.1 1106.8 624.2 1108.3 624.4 1109.8 624.5 1111.3 624.6 1112.7 624.7 1114.2 624.8 1115.7 625.0 1117.2 625.1 1118.7 625.2 1120.2 625.3 1121.7 625.4 1123.2 625.6 1124.7 625.7 1126.2 625.8 1127.7 625.9 1129.2 626.0 1130.7 626.1 1132.2 626.3 1133.7 626.4 1135.2 626.5 1136.7 626.6 1138.2 626.7 1139.7 626.8 1141.2 627.0 1142.7 627.1 1144.1 627.2 1145.6 627.3 1147.1 627.4 1148.6 627.6 1150.1 627.7 1151.6 627.8 1153.1 627.9 1154.6 628.0 1156.1 628.1 1157.6 628.2 1159.1 628.4 1160.6 628.5 1162.1 628.6 1163.6 628.7 1165.1 628.8 1166.6 628.9 1168.1 629.1 1169.6 629.2 1171.1 629.3 1172.6 629.4 1174.1 629.5 1175.6 629.6 1177.0 629.7 1178.5 629.9 1180.0 630.0 1181.5 630.1 1183.0 630.2 1184.5 630.3 1186.0 630.4 1187.5 630.5 1189.0 630.7 1190.5 630.8 1192.0 630.9 1193.5 631.0 1195.0 631.1 1196.5 631.2 1198.0 631.3 1199.5 631.4 1201.0 631.6 1202.5 631.7 1204.0 631.8 1205.5 631.9 1207.0 632.0 1208.5 632.1 1210.0 632.2 1211.5 632.3 1212.9 632.5 1214.4 632.6 1215.9 632.7 1217.4 632.8 1218.9 632.9 1220.4 633.0 1221.9 633.1 1223.4 633.2 1224.9 633.3 1226.4 633.5 1227.9 633.6 1229.4 633.7 1230.9 633.8 1232.4 633.9 1233.9 634.0 1235.4 634.1 1236.9 634.2 1238.4 634.3 1239.9 634.5 1241.4 634.6 1242.9 634.7 1244.4 634.8 1245.9 634.9 1247.4 635.0 1248.5 635.1"/>
</g>
<g stroke-width="5.5" stroke-linecap="round">
<path stroke="#000" d="M971.2 144.2H1086"/>
<path stroke="#f00" d="M971.2 198H1086"/>
<path stroke="#00f" d="M971.2 251.9H1086"/>
<path stroke="#f0f" d="M971.2 305H1086"/>
<path stroke="#008a00" d="M971.2 358.5H1086"/>
</g>
<path stroke="#333" stroke-width="2.5" d="M299.6 56V550"/>
<path fill="#000" stroke="#000" stroke-width="1" stroke-linejoin="round" d="M293.2 547.8L305.6 547.8L299.4 566.5Z"/>
<g stroke="#000" stroke-width="4" fill="none" stroke-linecap="round">
<path d="M138.5 20.5H1248.5V736.5M158.6 20.5V736.5M138.5 719.4H1248.5"/>
<path d="M138.5 137H158.6M138.5 253.6H158.6M138.5 370.1H158.6M138.5 486.6H158.6M138.5 603.1H158.6"/>
<path d="M147.5 78.75H158.6M147.5 195.3H158.6M147.5 311.8H158.6M147.5 428.3H158.6M147.5 544.8H158.6M147.5 661.3H158.6"/>
<path d="M376.6 719.4V736.5M594.6 719.4V736.5M812.6 719.4V736.5M1030.5 719.4V736.5"/>
<path d="M267.6 719.4V728.5M485.6 719.4V728.5M703.6 719.4V728.5M921.6 719.4V728.5M1139.5 719.4V728.5"/>
</g>
<g font-size="37.5" text-anchor="end" transform="translate(126,0) scale(1.15,1) translate(-126,0)">
<text x="126" y="31">1.2</text>
<text x="126" y="147">1.0</text>
<text x="126" y="263">0.8</text>
<text x="126" y="379.5">0.6</text>
<text x="126" y="496">0.4</text>
<text x="126" y="612.5">0.2</text>
<text x="126" y="729.5">0.0</text>
</g>
<g font-size="37.5" text-anchor="middle">
<text transform="translate(158.6,774.5) scale(1.15,1)">300</text>
<text transform="translate(376.6,774.5) scale(1.15,1)">400</text>
<text transform="translate(594.6,774.5) scale(1.15,1)">500</text>
<text transform="translate(812.6,774.5) scale(1.15,1)">600</text>
<text transform="translate(1030.5,774.5) scale(1.15,1)">700</text>
<text transform="translate(1248.5,774.5) scale(1.15,1)">800</text>
</g>
<g font-size="44">
<text transform="translate(1100,160) scale(1.17,1)">ZnO</text>
<text transform="translate(1100,213.5) scale(1.145,1)">ZG-1</text>
<text transform="translate(1100,266.5) scale(1.145,1)">ZG-2</text>
<text transform="translate(1100,320) scale(1.145,1)">ZG-3</text>
<text transform="translate(1100,373) scale(1.145,1)">ZG-4</text>
</g>
<text font-size="44" letter-spacing="1.3" transform="translate(519.6,843.3) scale(1.11,1)">Wavelength(nm)</text>
<text font-size="42.7" text-anchor="middle" transform="translate(40.7,397.3) scale(1.14,1) rotate(-90)">Absorbance</text>
</svg></div>
</body></html>
